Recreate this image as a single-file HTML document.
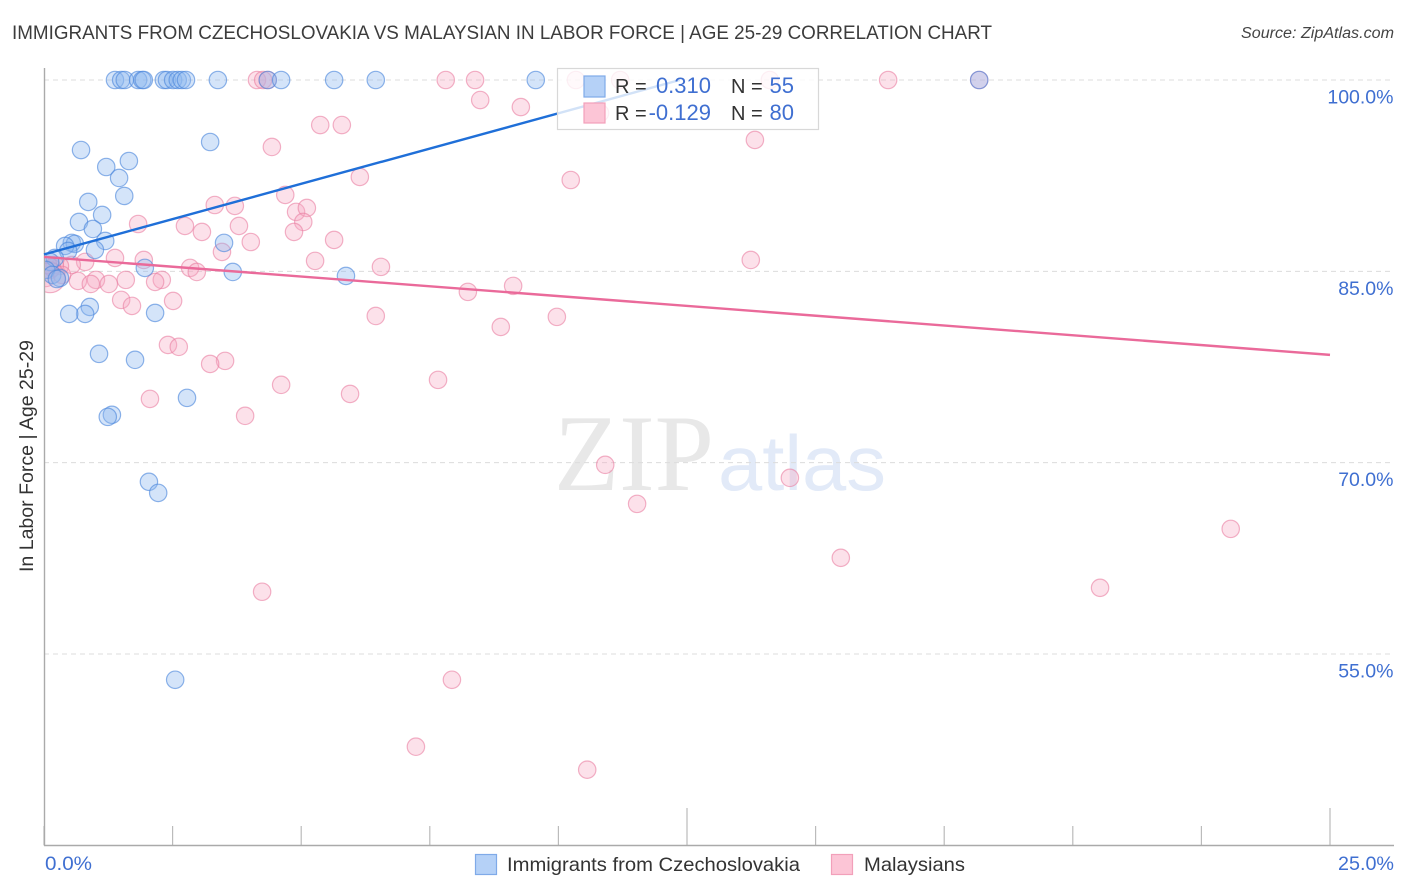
<!DOCTYPE html>
<html lang="en">
<head>
<meta charset="utf-8">
<title>Immigrants from Czechoslovakia vs Malaysian Correlation Chart</title>
<style>
html,body{margin:0;padding:0;background:#fff;width:1406px;height:892px;overflow:hidden}
svg{display:block;font-family:"Liberation Sans",sans-serif}
</style>
</head>
<body>
<svg id="chart" xmlns="http://www.w3.org/2000/svg" width="1406" height="892" viewBox="0 0 1406 892">
  <defs>
    <clipPath id="plot-clip"><rect x="45" y="60" width="1349" height="785"/></clipPath>
  </defs>
  <rect x="0" y="0" width="1406" height="892" fill="#fff"/>
  <text x="12" y="39" font-size="19.6" fill="#3c3c3c" textLength="980" lengthAdjust="spacingAndGlyphs">IMMIGRANTS FROM CZECHOSLOVAKIA VS MALAYSIAN IN LABOR FORCE | AGE 25-29 CORRELATION CHART</text>
  <text x="1241" y="38" font-size="15.5" font-style="italic" fill="#444" textLength="153" lengthAdjust="spacingAndGlyphs">Source: ZipAtlas.com</text>
  <g>
    <text x="554" y="490" style="font-family:'Liberation Serif',serif" font-size="109" fill="#e8e8e8" textLength="160" lengthAdjust="spacingAndGlyphs">ZIP</text>
    <text x="718" y="490" style="font-family:'Liberation Sans',sans-serif" font-size="78" fill="#e2eaf8" textLength="168" lengthAdjust="spacingAndGlyphs">atlas</text>
  </g>
  <g id="grid"></g>
  <g id="y-labels"></g>
  <g id="x-ticks"></g>
  <line x1="44.5" y1="68" x2="44.5" y2="846" stroke="#aaa" stroke-width="1.4"/>
  <line x1="44" y1="845.5" x2="1394" y2="845.5" stroke="#aaa" stroke-width="1.4"/>
  <g id="points" clip-path="url(#plot-clip)"></g>
  <g id="trends"></g>
  <text transform="translate(33,456) rotate(-90)" font-size="19" fill="#333" text-anchor="middle" textLength="232" lengthAdjust="spacingAndGlyphs">In Labor Force | Age 25-29</text>
  <text x="45" y="870" font-size="19" fill="#3f6fd1" textLength="47" lengthAdjust="spacingAndGlyphs">0.0%</text>
  <text x="1338" y="870" font-size="19.5" fill="#3f6fd1" textLength="56" lengthAdjust="spacingAndGlyphs">25.0%</text>
  <g>
    <rect x="557.5" y="68.5" width="261" height="61" fill="#fff" fill-opacity="0.8" stroke="#d8d8d8" stroke-width="1.2"/>
    <rect x="584" y="76" width="21" height="21" fill="#b5d1f7" stroke="#7faae8" stroke-width="1.2"/>
    <rect x="584" y="103" width="21" height="20" fill="#fcc5d6" stroke="#f2a0ba" stroke-width="1.2"/>
    <text x="615" y="93" font-size="20" fill="#333">R =</text>
    <text x="711" y="93" font-size="22" fill="#3f6fd1" text-anchor="end">0.310</text>
    <text x="731" y="93" font-size="20" fill="#333">N =</text>
    <text x="794" y="93" font-size="22" fill="#3f6fd1" text-anchor="end">55</text>
    <text x="615" y="120" font-size="20" fill="#333">R =</text>
    <text x="711" y="120" font-size="22" fill="#3f6fd1" text-anchor="end">-0.129</text>
    <text x="731" y="120" font-size="20" fill="#333">N =</text>
    <text x="794" y="120" font-size="22" fill="#3f6fd1" text-anchor="end">80</text>
  </g>
  <g>
    <rect x="475.5" y="854.5" width="21" height="20" fill="#b5d1f7" stroke="#7faae8" stroke-width="1.2"/>
    <text x="507" y="871" font-size="19.5" fill="#333" textLength="293" lengthAdjust="spacingAndGlyphs">Immigrants from Czechoslovakia</text>
    <rect x="831.5" y="854.5" width="21" height="20" fill="#fcc5d6" stroke="#f2a0ba" stroke-width="1.2"/>
    <text x="864" y="871" font-size="19.5" fill="#333" textLength="101" lengthAdjust="spacingAndGlyphs">Malaysians</text>
  </g>
</svg>
<script>
const yTickValues = [100, 85, 70, 55];
const yTickLabels = ["100.0%", "85.0%", "70.0%", "55.0%"];
const xTickValues = [0, 2.5, 5, 7.5, 10, 12.5, 15, 17.5, 20, 22.5, 25];
const xMajorTicks = [12.5, 25];

const blueX = [1.38,1.50,1.57,1.83,1.91,1.94,2.33,2.39,2.51,2.60,2.68,2.76,3.38,4.35,4.61,5.64,6.45,9.56,18.18,
  3.23,0.72,1.65,1.21,1.46,1.56,0.86,1.13,0.68,0.95,1.19,3.50,0.54,0.60,0.41,0.47,0.99,1.96,3.67,5.87,
  0.21,0.12,0.04,0.16,0.31,0.25,0.89,0.80,0.49,2.16,1.07,1.77,1.32,1.24,2.78,2.04,2.22,2.55];
const blueY = [100,100,100,100,100,100,100,100,100,100,100,100,100,100,100,100,100,100,100,
  95.14,94.51,93.65,93.18,92.32,90.91,90.44,89.42,88.87,88.32,87.38,87.23,87.23,87.15,86.99,86.60,86.68,85.27,84.95,84.64,
  86.05,85.74,85.11,84.72,84.48,84.40,82.21,81.66,81.66,81.74,78.53,78.06,73.75,73.59,75.08,68.50,67.63,52.98];

const pinkX = [4.14,4.26,4.35,7.81,8.38,10.34,11.20,14.11,16.41,18.18,
  8.48,9.27,10.81,5.37,5.79,4.43,13.82,6.14,10.24,4.69,3.32,3.71,1.83,4.90,5.11,5.04,4.86,2.74,3.07,3.79,4.02,5.64,3.46,
  1.94,1.38,5.27,6.55,13.74,2.84,2.97,0.80,0.54,0.31,0.21,9.12,8.24,2.29,2.16,1.59,1.01,0.66,0.91,1.26,1.50,1.71,2.51,
  6.45,9.97,8.88,2.41,2.62,3.52,3.23,7.66,4.61,5.95,2.06,3.91,10.91,14.50,11.53,23.07,15.49,20.53,4.24,7.93,7.23,10.56,
  0.04,0.12,0.16,0.35,0.08,0.12];
const pinkY = [100,100,100,100,100,100,100,100,100,100,
  98.43,97.88,97.41,96.47,96.47,94.75,95.30,92.40,92.16,90.99,90.20,90.13,88.71,89.66,89.97,88.87,88.09,88.56,88.09,88.56,87.30,87.46,86.52,
  85.89,86.05,85.82,85.35,85.89,85.27,84.95,85.74,85.50,85.42,85.50,83.86,83.39,84.33,84.17,84.33,84.33,84.25,84.01,84.01,82.76,82.29,82.68,
  81.50,81.43,80.64,79.23,79.08,77.98,77.74,76.49,76.10,75.39,75.00,73.67,69.83,68.81,66.77,64.81,62.54,60.19,59.88,52.98,47.73,45.93,
  84.48,85.11,85.27,84.72,85.50,84.50];

const blueTrendX = [0, 12.36];
const blueTrendY = [86.33, 100];
const pinkTrendX = [0, 25];
const pinkTrendY = [86.13, 78.45];

const NS = "http://www.w3.org/2000/svg";
const xScale = v => 44 + v * (1330 - 44) / 25;
const yScale = v => 80 + (100 - v) * (654 - 80) / 45;

function make(tag, attrs, parent) {
  const el = document.createElementNS(NS, tag);
  for (const k in attrs) el.setAttribute(k, attrs[k]);
  parent.appendChild(el);
  return el;
}

const grid = document.getElementById("grid");
const yLabels = document.getElementById("y-labels");
yTickValues.forEach((v, i) => {
  const line = make("line", {x1: 44, x2: 1394, y1: yScale(v), y2: yScale(v), stroke: "#dcdcdc", "stroke-width": 1, "stroke-dasharray": "5 4"}, grid);
  
  
  const t = make("text", {x: 1393.5, y: yScale(v) + 23.5, "font-size": 19.5, fill: "#3f6fd1", "text-anchor": "end"}, yLabels);
  
  
  t.textContent = yTickLabels[i];
});

const xTicks = document.getElementById("x-ticks");
xTickValues.forEach(v => {
  const top = xMajorTicks.includes(v) ? 808 : 826;
  const tick = make("line", {x1: xScale(v), x2: xScale(v), y1: top, y2: 845, stroke: "#bbb", "stroke-width": 1.2}, xTicks);
  
  
});

const points = document.getElementById("points");
pinkX.forEach((x, i) => {
  const radius = i === pinkX.length - 1 ? 15 : 8.7;
  const c = make("circle", {cx: xScale(x), cy: yScale(pinkY[i]), r: radius, fill: "#f7a8c0", "fill-opacity": 0.34, stroke: "#ea7fa2", "stroke-opacity": 0.6, "stroke-width": 1.2}, points);
  
  
});
blueX.forEach((x, i) => {
  const c = make("circle", {cx: xScale(x), cy: yScale(blueY[i]), r: 8.7, fill: "#8db8ee", "fill-opacity": 0.38, stroke: "#4a86dc", "stroke-opacity": 0.62, "stroke-width": 1.2}, points);
  
  
});

const trends = document.getElementById("trends");
const blueLine = make("line", {x1: xScale(blueTrendX[0]), y1: yScale(blueTrendY[0]), x2: xScale(blueTrendX[1]), y2: yScale(blueTrendY[1]), stroke: "#1f6fd8", "stroke-width": 2.4}, trends);


const pinkLine = make("line", {x1: xScale(pinkTrendX[0]), y1: yScale(pinkTrendY[0]), x2: xScale(pinkTrendX[1]), y2: yScale(pinkTrendY[1]), stroke: "#ea6a9a", "stroke-width": 2.4}, trends);


</script>
</body>
</html>
